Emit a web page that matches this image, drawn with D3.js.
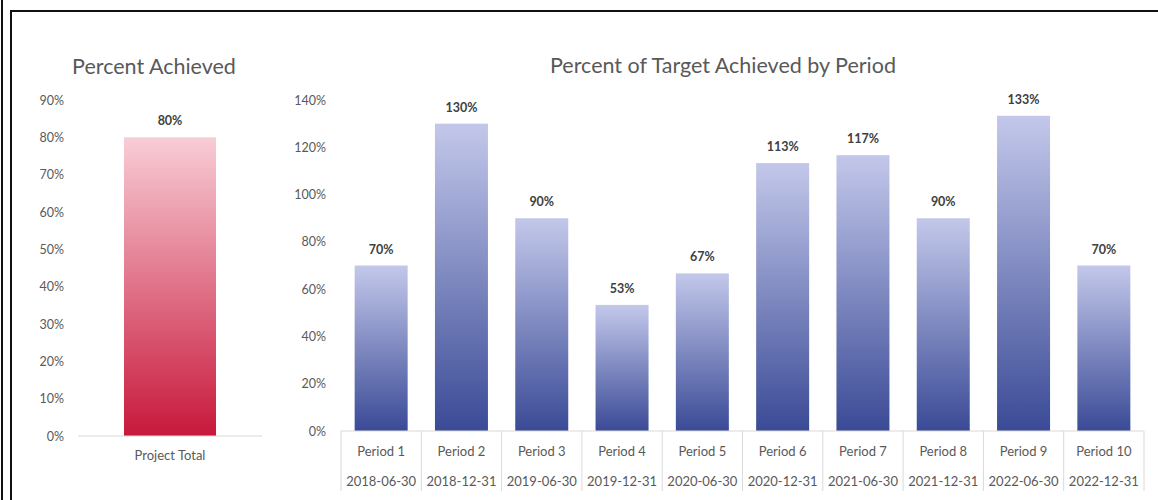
<!DOCTYPE html>
<html>
<head>
<meta charset="utf-8">
<script src="https://cdn.jsdelivr.net/npm/d3@7"></script>
<style>
  body { margin: 0; background: white; }
  text { font-family: Lato, "Open Sans", sans-serif; fill: #595959; }
  .tick text { font-size: 12.5px; }
  .title { font-size: 21.5px; }
  .valor { font-size: 12.5px; font-weight: bold; fill: #404040; }
  .cat { font-size: 13px; }
</style>
</head>
<body>
<svg id="plot"></svg>
<script>
const width = 1158;
const height = 500;

// datos
const totalCategory = ["Project Total"];
const totalValue = [0.80];
const totalTicks = [0, 0.1, 0.2, 0.3, 0.4, 0.5, 0.6, 0.7, 0.8, 0.9];

const periods = ["Period 1", "Period 2", "Period 3", "Period 4", "Period 5",
                 "Period 6", "Period 7", "Period 8", "Period 9", "Period 10"];
const periodDates = ["2018-06-30", "2018-12-31", "2019-06-30", "2019-12-31", "2020-06-30",
                     "2020-12-31", "2021-06-30", "2021-12-31", "2022-06-30", "2022-12-31"];
const periodValues = [0.70, 1.30, 0.90, 0.5333, 0.6667, 1.1333, 1.1667, 0.90, 1.3333, 0.70];
const periodTicks = [0, 0.2, 0.4, 0.6, 0.8, 1.0, 1.2, 1.4];

const plot = d3.select("#plot")
  .attr("width", width)
  .attr("height", height);

const pct = d3.format(".0%");

// gradientes
const defs = plot.append("defs");
function gradiente(id, top, bottom) {
  const g = defs.append("linearGradient").attr("id", id)
    .attr("x1", 0).attr("y1", 0).attr("x2", 0).attr("y2", 1);
  g.append("stop").attr("offset", "0%").attr("stop-color", top);
  g.append("stop").attr("offset", "100%").attr("stop-color", bottom);
}
gradiente("rojo", "#f8cdd6", "#c8183b");
gradiente("azul", "#c3c8ea", "#3a4a96");

// marco
plot.append("line").attr("x1", 2).attr("x2", 2).attr("y1", 0).attr("y2", height)
  .attr("stroke", "#111").attr("stroke-width", 2);
plot.append("path").attr("d", "M11," + height + "V11H" + width)
  .attr("fill", "none").attr("stroke", "#111").attr("stroke-width", 2);

// ---- grafico izquierdo
const xTotal = d3.scaleBand().domain(totalCategory).range([78, 262])
  .paddingInner(0.5).paddingOuter(0.25);
const yTotal = d3.scaleLinear().domain([0, 0.9]).range([436, 100]);

const ejeYTotal = plot.append("g")
  .attr("transform", "translate(69,0)")
  .call(d3.axisLeft(yTotal).tickValues(totalTicks).tickFormat(pct).tickSize(0).tickPadding(5));
ejeYTotal.select(".domain").remove();

plot.selectAll("rect.total").data(totalValue).enter()
  .append("rect")
  .attr("class", "total")
  .attr("x", (d, i) => xTotal(totalCategory[i]))
  .attr("width", xTotal.bandwidth())
  .attr("y", (d) => yTotal(d))
  .attr("height", (d) => yTotal(0) - yTotal(d))
  .attr("fill", "url(#rojo)");

plot.selectAll("text.valorTotal").data(totalValue).enter()
  .append("text")
  .attr("class", "valor")
  .attr("x", (d, i) => xTotal(totalCategory[i]) + xTotal.bandwidth() / 2)
  .attr("y", (d) => yTotal(d) - 12)
  .attr("text-anchor", "middle")
  .text((d) => pct(d));

plot.append("line")
  .attr("x1", 78).attr("x2", 262)
  .attr("y1", yTotal(0)).attr("y2", yTotal(0))
  .attr("stroke", "#d9d9d9");

plot.selectAll("text.catTotal").data(totalCategory).enter()
  .append("text")
  .attr("class", "cat")
  .attr("x", (d) => xTotal(d) + xTotal.bandwidth() / 2)
  .attr("y", 460)
  .attr("text-anchor", "middle")
  .text((d) => d);

plot.append("text").attr("class", "title")
  .attr("x", 154).attr("y", 74)
  .attr("text-anchor", "middle")
  .text("Percent Achieved");

// ---- grafico derecho
const xPer = d3.scaleBand().domain(periods).range([341, 1144])
  .paddingInner(0.34).paddingOuter(0.17);
const yPer = d3.scaleLinear().domain([0, 1.4]).range([431, 100]);

const ejeYPer = plot.append("g")
  .attr("transform", "translate(331,0)")
  .call(d3.axisLeft(yPer).tickValues(periodTicks).tickFormat(pct).tickSize(0).tickPadding(5));
ejeYPer.select(".domain").remove();

plot.selectAll("rect.periodo").data(periodValues).enter()
  .append("rect")
  .attr("class", "periodo")
  .attr("x", (d, i) => xPer(periods[i]))
  .attr("width", xPer.bandwidth())
  .attr("y", (d) => yPer(d))
  .attr("height", (d) => yPer(0) - yPer(d))
  .attr("fill", "url(#azul)");

plot.selectAll("text.valorPer").data(periodValues).enter()
  .append("text")
  .attr("class", "valor")
  .attr("x", (d, i) => xPer(periods[i]) + xPer.bandwidth() / 2)
  .attr("y", (d) => yPer(d) - 12)
  .attr("text-anchor", "middle")
  .text((d) => pct(d));

// eje de categorias en dos niveles
const paso = xPer.step();
const medio = (xPer.step() - xPer.bandwidth()) / 2;
plot.append("line")
  .attr("x1", 341).attr("x2", 1144)
  .attr("y1", yPer(0)).attr("y2", yPer(0))
  .attr("stroke", "#d9d9d9");

const separadores = periods.map((p) => xPer(p) - medio).concat([xPer(periods[periods.length - 1]) - medio + paso]);
plot.selectAll("line.sep").data(separadores).enter()
  .append("line")
  .attr("class", "sep")
  .attr("x1", (d) => d).attr("x2", (d) => d)
  .attr("y1", yPer(0)).attr("y2", 491)
  .attr("stroke", "#d9d9d9");

plot.selectAll("text.periodo").data(periods).enter()
  .append("text")
  .attr("class", "cat")
  .attr("x", (d) => xPer(d) + xPer.bandwidth() / 2)
  .attr("y", 456)
  .attr("text-anchor", "middle")
  .text((d) => d);

plot.selectAll("text.fecha").data(periodDates).enter()
  .append("text")
  .attr("class", "cat")
  .attr("x", (d, i) => xPer(periods[i]) + xPer.bandwidth() / 2)
  .attr("y", 486)
  .attr("text-anchor", "middle")
  .text((d) => d);

plot.append("text").attr("class", "title")
  .attr("x", 723).attr("y", 73)
  .attr("text-anchor", "middle")
  .text("Percent of Target Achieved by Period");
</script>
</body>
</html>
